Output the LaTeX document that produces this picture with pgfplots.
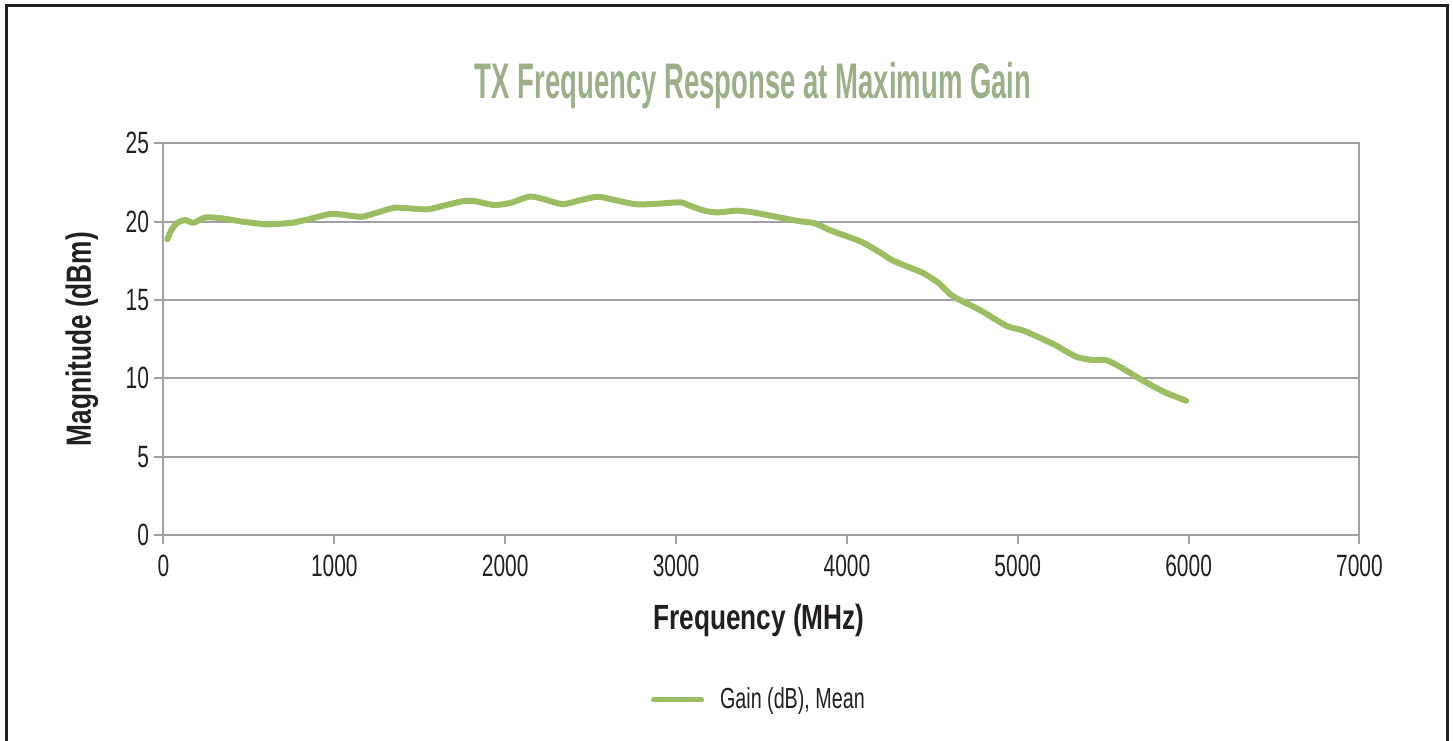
\documentclass[border=0pt]{standalone}
\usepackage{pgfplots}
\pgfplotsset{compat=1.18}
\usepackage{fontspec}
\setmainfont[FakeStretch=0.68]{Liberation Sans}
\newfontfamily\labelfont[FakeStretch=0.75]{Liberation Sans}
\newfontfamily\titlefont[FakeStretch=0.55]{Liberation Sans}
\definecolor{curve}{RGB}{157,189,98}
\definecolor{titlec}{RGB}{155,176,137}
\definecolor{gridc}{RGB}{160,160,166}
\definecolor{txt}{RGB}{35,31,32}
\pgfplotstableread{
x y
23 18.87
46 19.46
81 19.93
129 20.10
175 19.93
246 20.27
341 20.21
470 19.99
611 19.83
753 19.93
847 20.15
977 20.49
1066 20.42
1160 20.31
1255 20.59
1359 20.89
1538 20.78
1633 21.00
1755 21.31
1822 21.31
1935 21.06
2031 21.20
2139 21.59
2208 21.49
2335 21.12
2443 21.38
2541 21.59
2640 21.38
2758 21.12
2856 21.12
3023 21.23
3070 21.06
3166 20.70
3242 20.59
3356 20.70
3451 20.59
3585 20.31
3718 20.04
3813 19.89
3909 19.42
4083 18.72
4202 17.98
4262 17.55
4350 17.15
4450 16.70
4540 16.05
4619 15.25
4778 14.36
4936 13.34
5035 13.04
5207 12.19
5342 11.38
5438 11.17
5514 11.17
5591 10.78
5726 9.89
5861 9.11
5986 8.57
}\gaindata
\begin{document}
\begin{tikzpicture}[x=1pt,y=1pt]
\useasboundingbox (-81.75,-102.5) rectangle (644.75,267.5);
\draw[txt, line width=1.5pt] (-78.25,-110) -- (-78.25,264.75) -- (641.75,264.75) -- (641.75,-110);
\begin{axis}[
  at={(0pt,0pt)}, anchor=south west,
  scale only axis, width=598pt, height=195.85pt,
  xmin=0, xmax=7000, ymin=0, ymax=25,
  xtick={0,1000,...,7000}, ytick={0,5,...,25},
  axis line style={gridc, line width=1pt},
  ymajorgrids, grid style={gridc, line width=1pt},
  tick style={gridc, line width=1pt},
  tick align=outside, major tick length=4.5pt,
  tick pos=left,
  ticklabel style={font=\fontsize{15.4}{16}\selectfont, text=txt},
  xticklabel style={yshift=-2pt},
  yticklabel style={xshift=0.75pt},
  /pgf/number format/assume math mode=true,
  /pgf/number format/1000 sep={},
  scaled x ticks=false,
  title={TX Frequency Response at Maximum Gain},
  title style={at={(axis description cs:0.4930,1.1539)}, anchor=center, yshift=-7.5pt, font=\titlefont\bfseries\fontsize{25}{27}\selectfont, text=titlec},
  xlabel={Frequency (MHz)}, ylabel={Magnitude (dBm)},
  label style={font=\labelfont\bfseries\fontsize{17.5}{20}\selectfont, text=txt},
  xlabel style={at={(axis description cs:0.4979,-0.217)}, anchor=center},
  ylabel style={at={(axis description cs:-0.06814,0.5)}, anchor=center},
  legend style={at={(axis description cs:0.4987,-0.4212)}, anchor=center, draw=none, fill=none,
    font=\fontsize{14.5}{16}\selectfont, text=txt},
  legend image code/.code={\draw[#1, line width=2.5pt, line cap=round] (1.25pt,0pt) -- (25.25pt,0pt); \path (31pt,0pt);},
]
\addplot[curve, line width=3pt, line cap=round, line join=round, smooth, tension=0.4] table[x=x,y=y] {\gaindata};
\addlegendentry{Gain (dB), Mean}
\end{axis}
\end{tikzpicture}
\end{document}
